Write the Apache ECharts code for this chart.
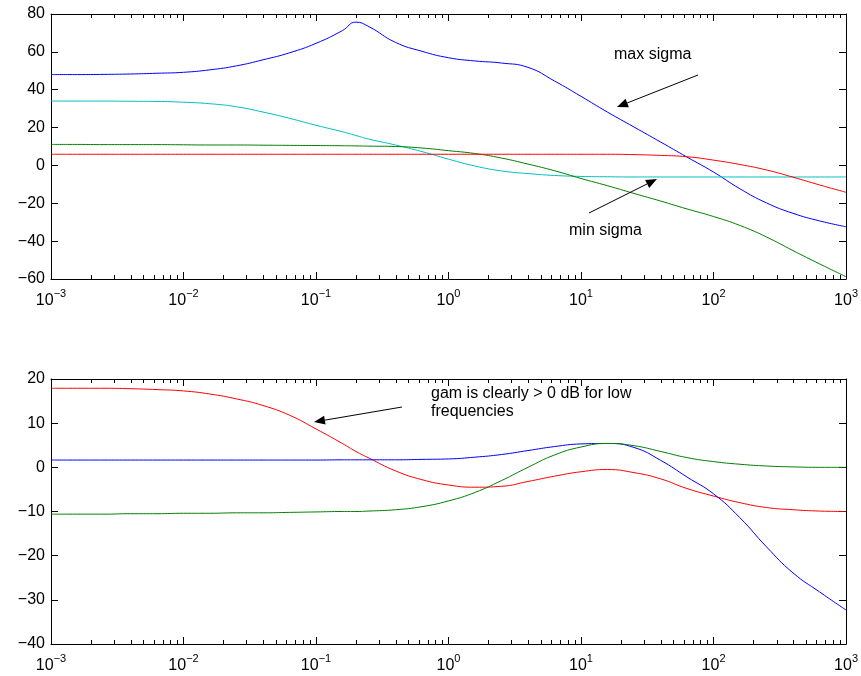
<!DOCTYPE html>
<html>
<head>
<meta charset="utf-8">
<script src="https://cdn.jsdelivr.net/npm/echarts@6/dist/echarts.min.js"></script>
<style>
  html, body { margin: 0; padding: 0; background: #fff; }
  #chart { width: 861px; height: 676px; }
</style>
</head>
<body>
<div id="chart"></div>
<script>
// frequency points (rad/s), 0.2 decade apart, plus the peak near 0.2
const freqs = [0.001, 0.00158, 0.00251, 0.00398, 0.00631, 0.01, 0.0158, 0.0251, 0.0398, 0.0631,
  0.1, 0.158, 0.2, 0.251, 0.398, 0.631, 1, 1.58, 2.51, 3.98, 6.31,
  10, 15.8, 25.1, 39.8, 63.1, 100, 158, 251, 398, 631, 1000];

// top plot: singular values (dB)
const topBlue = [48.0, 48.0, 48.1, 48.3, 48.7, 49.2, 50.5, 52.6, 55.8, 59.5,
  64.5, 71.2, 75.7, 73.3, 65.0, 60.3, 56.9, 55.2, 54.1, 51.8, 44.6,
  36.5, 28.2, 20.3, 12.4, 4.4, -3.5, -12.3, -19.8, -25.3, -29.3, -32.4];
const topCyan = [34.0, 34.0, 34.0, 33.9, 33.8, 33.4, 32.6, 31.0, 28.2, 24.9,
  21.2, 17.8, 15.8, 13.9, 10.8, 7.3, 3.3, -0.3, -2.9, -4.3, -5.3,
  -5.8, -6.0, -6.1, -6.1, -6.1, -6.1, -6.1, -6.1, -6.1, -6.1, -6.1];
const topGreen = [11.1, 11.1, 11.0, 11.0, 11.0, 10.9, 10.8, 10.8, 10.7, 10.6,
  10.5, 10.4, 10.3, 10.2, 10.0, 9.2, 7.8, 6.3, 3.9, 0.7, -2.8,
  -6.9, -10.7, -14.8, -18.8, -23.0, -27.0, -31.7, -37.8, -45.0, -52.0, -58.8];
const topRed = [5.9, 5.9, 5.9, 5.9, 5.9, 5.9, 5.9, 5.9, 5.9, 5.9,
  5.9, 5.9, 5.9, 5.9, 5.9, 5.9, 5.9, 5.9, 5.9, 5.9, 5.9,
  5.9, 5.9, 5.7, 5.3, 4.6, 2.8, 0.5, -2.4, -6.2, -10.3, -14.2];

// bottom plot: gam (dB)
const botRed = [17.9, 17.9, 17.9, 17.8, 17.6, 17.3, 16.6, 15.5, 14.0, 11.8,
  8.7, 5.4, 3.6, 2.1, -0.8, -2.8, -4.0, -4.5, -4.3, -3.2, -2.0,
  -1.0, -0.5, -1.2, -2.6, -4.8, -6.5, -8.0, -9.1, -9.6, -9.9, -10.0];
const botBlue = [1.65, 1.65, 1.65, 1.65, 1.65, 1.65, 1.65, 1.65, 1.65, 1.65,
  1.65, 1.7, 1.7, 1.7, 1.7, 1.8, 1.9, 2.3, 2.9, 3.8, 4.7,
  5.3, 5.4, 4.5, 1.6, -2.2, -6.0, -11.4, -18.0, -23.9, -28.2, -32.3];
const botGreen = [-10.6, -10.6, -10.6, -10.5, -10.5, -10.4, -10.4, -10.3, -10.3, -10.2,
  -10.1, -10.0, -10.0, -9.9, -9.6, -8.9, -7.6, -5.7, -3.0, 0.0, 2.8,
  4.6, 5.4, 4.9, 3.6, 2.2, 1.3, 0.7, 0.3, 0.1, 0.0, 0.0];

// axis ticks
const xTicks = [0.001, 0.01, 0.1, 1, 10, 100, 1000];
const xMinor = [];
for (let k = -3; k < 3; k++) {
  for (let m = 2; m <= 9; m++) xMinor.push(+(m * Math.pow(10, k)).toPrecision(3));
}

const FONT = 'Liberation Sans';
const chart = echarts.init(document.getElementById('chart'), null, { renderer: 'canvas' });

function pow10Label(v) {
  const e = Math.round(Math.log10(v));
  return '{b|10}{s|' + String(e).replace('-', '\u2212') + '}';
}

function xAxes(gridIndex, withLabels) {
  const base = { type: 'log', logBase: 10, gridIndex, min: 0.001, max: 1000,
    splitLine: { show: false }, minorTick: { show: false } };
  const lineOn = { show: true, onZero: false, lineStyle: { color: '#000', width: 1 } };
  const lineOff = { show: false, onZero: false };
  return [
    Object.assign({}, base, {
      position: 'bottom',
      axisLine: lineOn,
      axisTick: { show: true, inside: true, length: 7, customValues: xTicks,
        lineStyle: { color: '#000' } },
      axisLabel: { show: withLabels, customValues: xTicks, formatter: pow10Label, margin: 9,
        rich: {
          b: { fontFamily: FONT, fontSize: 16, color: '#000', verticalAlign: 'bottom', lineHeight: 20 },
          s: { fontFamily: FONT, fontSize: 11, color: '#000', verticalAlign: 'bottom', padding: [0, 0, 10, 0] }
        } }
    }),
    Object.assign({}, base, {
      position: 'bottom',
      axisLine: lineOff,
      axisTick: { show: true, inside: true, length: 4, customValues: xMinor,
        lineStyle: { color: '#000' } },
      axisLabel: { show: false }
    }),
    Object.assign({}, base, {
      position: 'top',
      axisLine: lineOn,
      axisTick: { show: true, inside: true, length: 7, customValues: xTicks,
        lineStyle: { color: '#000' } },
      axisLabel: { show: false }
    }),
    Object.assign({}, base, {
      position: 'top',
      axisLine: lineOff,
      axisTick: { show: true, inside: true, length: 4, customValues: xMinor,
        lineStyle: { color: '#000' } },
      axisLabel: { show: false }
    })
  ];
}

function yAxes(gridIndex, min, max, interval) {
  const base = { type: 'value', gridIndex, min, max, interval, splitLine: { show: false } };
  return [
    Object.assign({}, base, {
      position: 'left',
      axisLine: { show: true, onZero: false, lineStyle: { color: '#000', width: 1 } },
      axisTick: { show: true, inside: true, length: 7, lineStyle: { color: '#000' } },
      axisLabel: { fontFamily: FONT, fontSize: 16, color: '#000', margin: 6,
        formatter: v => String(v).replace('-', '\u2212') }
    }),
    Object.assign({}, base, {
      position: 'right',
      axisLine: { show: true, onZero: false, lineStyle: { color: '#000', width: 1 } },
      axisTick: { show: true, inside: true, length: 7, lineStyle: { color: '#000' } },
      axisLabel: { show: false }
    })
  ];
}

function line(name, xs, ys, color, xi, yi) {
  return {
    name, type: 'line', xAxisIndex: xi, yAxisIndex: yi,
    data: xs.map((f, i) => [f, ys[i]]),
    showSymbol: false, symbol: 'none', smooth: 0.5,
    lineStyle: { color, width: 1 }, itemStyle: { color },
    emphasis: { disabled: true }, animation: false, z: 3
  };
}

// arrow graphic: line from (x1,y1) to tip (x2,y2) with a filled head
function arrow(x1, y1, x2, y2) {
  const dx = x2 - x1, dy = y2 - y1;
  const len = Math.sqrt(dx * dx + dy * dy);
  const ux = dx / len, uy = dy / len;
  const hl = 11, hw = 4.5;
  const bx = x2 - ux * hl, by = y2 - uy * hl;
  return [
    { type: 'line', shape: { x1, y1, x2: bx, y2: by }, style: { stroke: '#000', lineWidth: 1 }, z: 10 },
    { type: 'polygon', shape: { points: [[x2, y2], [bx - uy * hw, by + ux * hw], [bx + uy * hw, by - ux * hw]] },
      style: { fill: '#000' }, z: 10 }
  ];
}

function label(text, x, y) {
  return { type: 'text', x, y, z: 10,
    style: { text, fontFamily: FONT, fontSize: 16, fill: '#000', textVerticalAlign: 'middle' } };
}

const option = {
  backgroundColor: '#fff',
  animation: false,
  grid: [
    { left: 51, top: 14, width: 800, height: 265 },
    { left: 51, top: 379, width: 800, height: 265 }
  ],
  xAxis: [].concat(xAxes(0, true), xAxes(1, true)),
  yAxis: [].concat(yAxes(0, -60, 80, 20), yAxes(1, -40, 20, 10)),
  series: [
    line('max sigma', freqs, topBlue, '#0000ff', 0, 0),
    line('sigma 2', freqs, topCyan, '#00bfbf', 0, 0),
    line('sigma 3', freqs, topGreen, '#008000', 0, 0),
    line('min sigma', freqs, topRed, '#ff0000', 0, 0),
    line('gam 1', freqs, botRed, '#ff0000', 4, 2),
    line('gam 2', freqs, botBlue, '#0000ff', 4, 2),
    line('gam 3', freqs, botGreen, '#008000', 4, 2)
  ],
  graphic: [].concat(
    [label('max sigma', 614, 55)],
    arrow(698, 75, 617, 107),
    [label('min sigma', 569, 231)],
    arrow(589, 213, 657, 179),
    [label('gam is clearly > 0 dB for low', 431, 394), label('frequencies', 431, 412)],
    arrow(402, 407, 314, 422)
  )
};

chart.setOption(option);
</script>
</body>
</html>
